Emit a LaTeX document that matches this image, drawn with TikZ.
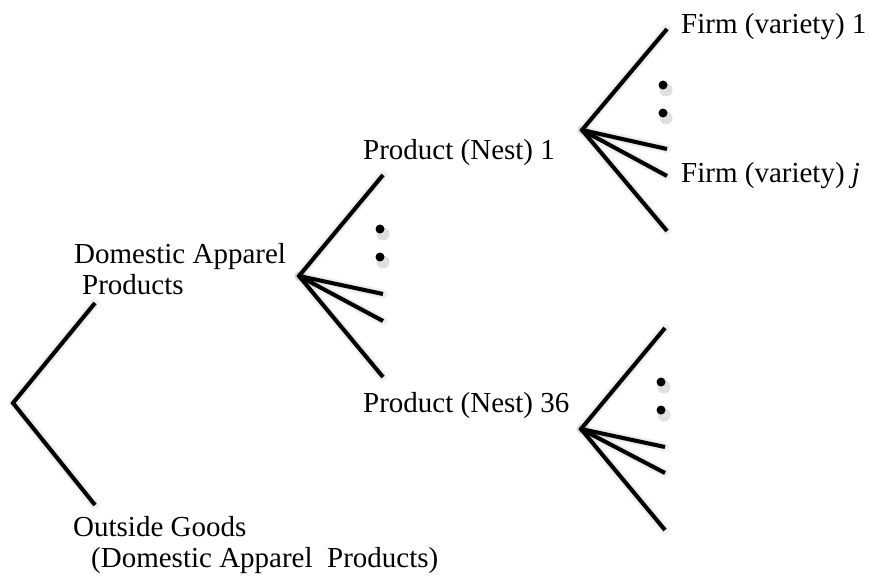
\documentclass[tikz,border=0pt]{standalone}
\usepackage{fontspec}
\setmainfont{Liberation Serif}
\begin{document}
\begin{tikzpicture}[x=1pt,y=-1pt,
  lbl/.style={anchor=base west,inner sep=0pt,font=\fontsize{29}{31}\selectfont},
  branch/.style={line width=4pt,black,line join=miter},
  shade1/.style={line width=9pt,black,opacity=0.06,line join=round,line cap=round},
  shade2/.style={line width=5pt,black,opacity=0.10,line join=round},
  dotmark/.style={circle,fill=black,inner sep=0pt,minimum size=9pt},
  dotshade/.style={circle,fill=black,opacity=0.12,inner sep=0pt,minimum size=13pt},
]
\useasboundingbox (0,0) rectangle (869,578);
% fan vertices and ends
\coordinate (r) at (13,403);  \coordinate (r1) at (95,303);  \coordinate (r2) at (95,505);
\coordinate (a) at (299,276); \coordinate (a1) at (383,175); \coordinate (a2) at (383,294);
\coordinate (a3) at (383,321); \coordinate (a4) at (383,377);
\coordinate (b) at (582,130); \coordinate (b1) at (667,29);  \coordinate (b2) at (667,149);
\coordinate (b3) at (667,176); \coordinate (b4) at (667,231);
\coordinate (c) at (581,429); \coordinate (c1) at (665,328); \coordinate (c2) at (665,447);
\coordinate (c3) at (665,473); \coordinate (c4) at (665,530);
% shadows
\begin{scope}[shift={(3,5)}]
  \foreach \s in {shade1,shade2}{
    \draw[\s] (r1) -- (r) -- (r2);
    \foreach \v in {a,b,c}{
      \draw[\s] (\v1) -- (\v) -- (\v4);
      \draw[\s] (\v) -- (\v2);
      \draw[\s] (\v) -- (\v3);
    }
  }
  \node[dotshade] at (380,229) {}; \node[dotshade] at (380,257) {};
  \node[dotshade] at (663,85) {};  \node[dotshade] at (663,113) {};
  \node[dotshade] at (661,382) {}; \node[dotshade] at (661,410) {};
\end{scope}
% branches
\draw[branch] (r1) -- (r) -- (r2);
\foreach \v in {a,b,c}{
  \draw[branch] (\v1) -- (\v) -- (\v4);
  \draw[branch] (\v) -- (\v2);
  \draw[branch] (\v) -- (\v3);
}
% dots
\node[dotmark] (ad1) at (380,229) {}; \node[dotmark] (ad2) at (380,257) {};
\node[dotmark] (bd1) at (663,85) {};  \node[dotmark] (bd2) at (663,113) {};
\node[dotmark] (cd1) at (661,382) {}; \node[dotmark] (cd2) at (661,410) {};
% labels
\node[lbl] (dom1) at (74,263) {Domestic Apparel};
\node[lbl] (dom2) at (82,294) {Products};
\node[lbl] (out1) at (73,536) {Outside Goods};
\node[lbl] (out2) at (91,567) {(Domestic Apparel\ \ Products)};
\node[lbl] (p1) at (363,159) {Product (Nest) 1};
\node[lbl] (p36) at (363,412) {Product (Nest) 36};
\node[lbl] (f1) at (681,34) {Firm (variety) 1};
\node[lbl] (fj) at (681,182) {Firm (variety) \textit{j}};
\end{tikzpicture}
\end{document}
